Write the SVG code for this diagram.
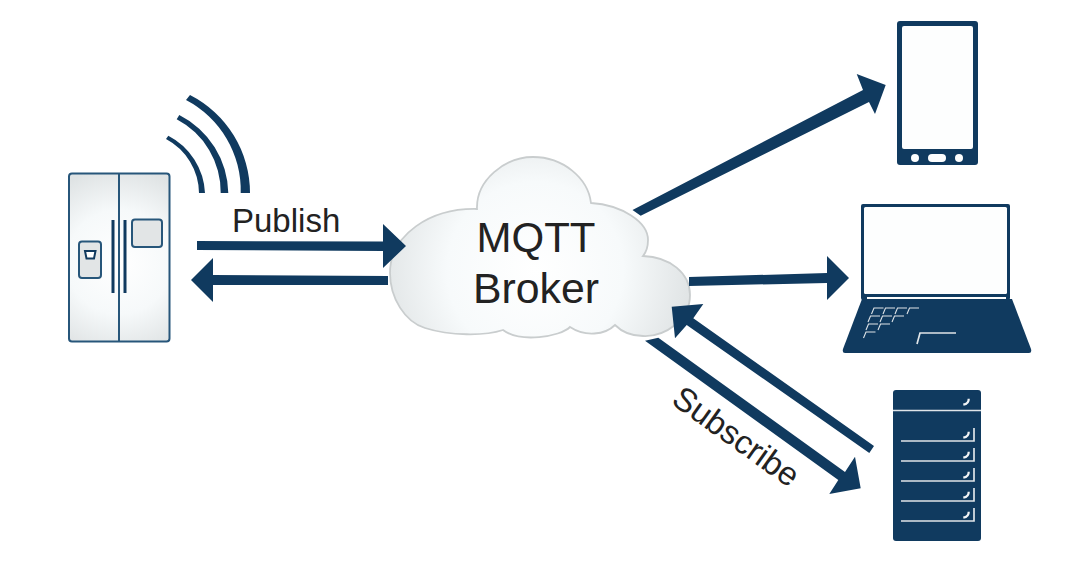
<svg xmlns="http://www.w3.org/2000/svg" width="1070" height="562" viewBox="0 0 1070 562">
<style>
.navy{fill:#103a5f}
.arrow{fill:#103a5f}
.fr{stroke:#27567a;stroke-width:2}
.lbl{font-family:"Liberation Sans",Arial,sans-serif;fill:#222}
.wl{fill:none;stroke:#dfe4e8;stroke-width:1.7}
.hk{fill:none;stroke:#f2f4f6;stroke-width:2.200}
.ky{fill:none;stroke:#dfe4e8;stroke-width:1.100}
.hole{fill:#fdfefe}
</style>
<defs>
<radialGradient id="cloudG" gradientUnits="userSpaceOnUse" cx="535" cy="270" r="160">
<stop offset="0" stop-color="#ffffff"/><stop offset="0.55" stop-color="#f7fafb"/><stop offset="1" stop-color="#dfe3e4"/>
</radialGradient>
<radialGradient id="fridgeG" gradientUnits="userSpaceOnUse" cx="119" cy="262" r="95">
<stop offset="0" stop-color="#ffffff"/><stop offset="0.55" stop-color="#f6f9fa"/><stop offset="1" stop-color="#dfe3e4"/>
</radialGradient>
<path id="hook" class="hk" d="M-5.300 -9.300Q-5 -4.500 -10.700 -3.300"/>
<g id="slot"><path class="wl" d="M-73 0H0V-13"/><use href="#hook"/></g>
<path id="key" class="ky" d="M10 0H0.500L-2 6"/>
</defs>

<g id="refrigerator">
<rect class="fr" x="69" y="173.500" width="100.500" height="168" rx="3" fill="url(#fridgeG)"/>
<path class="fr" d="M119 174V341" fill="none"/>
<path d="M113 220V293M125 220V293" stroke="#103a5f" stroke-width="3" fill="none"/>
<rect class="fr" x="132" y="219.500" width="30" height="27.500" rx="3" fill="#e2e5e6"/>
<rect class="fr" x="79" y="241.500" width="22" height="36.500" rx="3" fill="#e2e5e6"/>
<path d="M85 251H95.500L94 258.500H86.500Z" fill="#fff" stroke="#103a5f" stroke-width="2"/>
<path class="navy" d="M168.300 135.700A68 68 0 0 1 205 193H199A62 62 0 0 0 166 139Z"/>
<path class="navy" d="M179.300 115A89 89 0 0 1 228.300 193H220.700A82 82 0 0 0 176.700 119.300Z"/>
<path class="navy" d="M190 95A110 110 0 0 1 250 193H240.700A102 102 0 0 0 186 100Z"/>
</g>

<g id="broker">
<path d="M477 209C476 180 505 157 533 157C563 157 588 178 591 203C622 205 648 222 648 240C648 246 647 251 643 256C670 257 690 273 690 295C690 320 665 337 643 336C632 336 622 332 615 325C605 335 585 337 570 327C560 337 520 343 503 330C485 336 450 336 425 328C405 322 390 298 390 273C390 235 430 208 477 209Z" fill="url(#cloudG)" stroke="#c9cdce" stroke-width="1.800"/>
<text class="lbl" x="536" y="252" font-size="42" text-anchor="middle">MQTT</text>
<text class="lbl" x="536" y="303" font-size="42.800" text-anchor="middle">Broker</text>
</g>

<g id="phone">
<rect class="navy" x="897" y="21" width="81" height="144" rx="3"/>
<rect class="hole" x="902" y="26" width="71" height="123" rx="2"/>
<circle class="hole" cx="915" cy="158" r="4"/>
<rect class="hole" x="928" y="154" width="18" height="8" rx="4"/>
<circle class="hole" cx="959" cy="158" r="4"/>
</g>

<g id="laptop">
<rect class="navy" x="861" y="204" width="149" height="96" rx="2"/>
<rect class="hole" x="864" y="207" width="143" height="87" rx="1.500"/>
<rect class="hole" x="867" y="297" width="139" height="3"/>
<path class="navy" d="M862 299H1012L1031 349Q1032 353 1029 353H845Q842 353 843 349Z"/>
<use href="#key" x="873.500" y="308"/><use href="#key" x="885" y="308"/><use href="#key" x="897" y="308"/><use href="#key" x="909" y="308"/>
<use href="#key" x="870" y="316"/><use href="#key" x="882" y="316"/><use href="#key" x="894" y="316"/>
<use href="#key" x="868" y="324"/><use href="#key" x="880" y="324"/>
<use href="#key" x="865.500" y="332"/>
<path class="wl" d="M956 333H920L917 344"/>
</g>

<g id="server">
<rect class="navy" x="893" y="390" width="88" height="151" rx="3"/>
<path class="wl" d="M893 410.500H981"/>
<use href="#hook" x="974" y="408"/>
<use href="#slot" x="974" y="441"/>
<use href="#slot" x="974" y="461"/>
<use href="#slot" x="974" y="481"/>
<use href="#slot" x="974" y="501"/>
<use href="#slot" x="974" y="521"/>
</g>

<g id="connectors">
<polygon class="arrow" points="197,241 383,241.500 383,224 406,246 383,268 383,251 197,250"/>
<polygon class="arrow" points="388,276 213,275 213,258 191,280 213,302 213,285 388,285"/>
<polygon class="arrow" points="632.500,210 863,90 856.700,74 885.700,85 875,114 869,102 640.700,215.700"/>
<polygon class="arrow" points="689,277 827,273 827,256 849,278 827,300 827,283 689,286"/>
<polygon class="arrow" points="874,446 693.300,318.300 703.300,304 671.700,306.700 675,338.300 686.700,325 869.300,453"/>
<polygon class="arrow" points="645,340.700 658.300,337.700 845,472 855,456.700 860.700,488.300 829.300,494 838.300,480"/>
</g>

<g id="labels">
<text class="lbl" x="232" y="232" font-size="33">Publish</text>
<text class="lbl" x="0" y="0" font-size="33" transform="translate(670 403) rotate(35.500)">Subscribe</text>
</g>
</svg>
